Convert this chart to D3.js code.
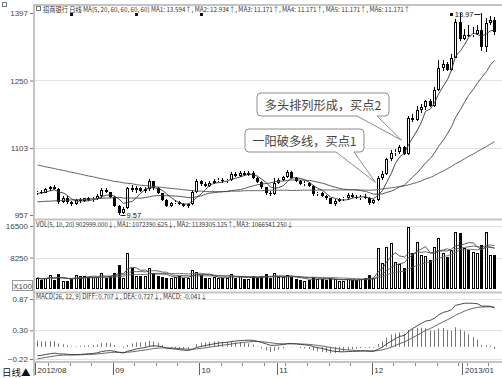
<!DOCTYPE html>
<html>
<head>
<meta charset="utf-8">
<script src="https://cdn.jsdelivr.net/npm/d3@7"></script>
<style>
  html, body { margin: 0; padding: 0; background: #fff; }
  svg { display: block; font-family: "Noto Sans CJK SC", "Liberation Sans", sans-serif; }
</style>
</head>
<body>
<svg id="chart" width="502" height="378"></svg>
<script>
// 招商银行 daily candles, 2012-08-08 .. 2013-01-15 (107 sessions)
const opens = [
  10.05,10.08,10.06,10.14,10.17,10.14,9.85,9.95,9.86,9.80,
  9.90,9.88,9.93,9.90,9.92,9.98,10.12,10.07,9.97,9.76,
  9.62,9.72,10.15,10.12,10.15,10.10,10.13,10.30,10.16,10.04,
  9.90,9.77,9.84,9.86,9.80,9.76,9.80,10.08,10.30,10.24,
  10.20,10.27,10.32,10.34,10.30,10.33,10.46,10.43,10.48,10.45,
  10.49,10.38,10.28,10.17,10.04,10.02,10.27,10.33,10.40,10.50,
  10.38,10.31,10.24,10.27,10.20,10.02,10.05,9.98,9.93,9.82,
  9.88,9.91,9.93,10.00,9.97,9.95,9.97,9.95,9.84,9.90,
  10.38,10.46,10.78,10.92,10.95,11.05,10.90,11.68,11.64,11.85,
  11.92,12.05,11.95,12.30,12.78,12.85,12.72,13.00,13.78,13.40,
  13.50,13.48,13.52,13.60,13.23,13.75,13.82
];
const highs = [
  10.10,10.12,10.16,10.20,10.22,10.16,9.98,9.98,9.88,9.92,
  9.95,9.95,9.96,9.96,10.02,10.15,10.16,10.08,9.99,9.78,
  9.74,10.18,10.22,10.20,10.18,10.18,10.36,10.32,10.18,10.06,
  9.92,9.86,9.90,9.88,9.84,9.82,10.12,10.36,10.33,10.28,
  10.30,10.36,10.38,10.38,10.36,10.50,10.50,10.52,10.52,10.52,
  10.53,10.40,10.30,10.19,10.10,10.38,10.38,10.42,10.55,10.52,
  10.40,10.34,10.30,10.29,10.22,10.08,10.07,10.00,9.95,9.92,
  9.94,9.96,10.04,10.04,10.00,10.00,10.02,9.97,9.92,10.42,
  10.52,10.82,10.98,11.00,11.10,11.08,11.72,11.78,11.95,11.98,
  12.08,12.10,12.35,12.95,12.95,12.90,13.08,13.85,13.96,13.62,
  13.70,13.66,13.70,13.97,13.86,13.90,13.88
];
const lows = [
  10.00,10.03,10.04,10.10,10.12,9.82,9.83,9.82,9.76,9.78,
  9.84,9.85,9.87,9.86,9.90,9.95,10.05,9.95,9.74,9.57,
  9.60,9.70,10.08,10.05,10.08,10.06,10.10,10.12,10.02,9.88,
  9.74,9.74,9.80,9.78,9.74,9.72,9.78,10.06,10.20,10.18,
  10.18,10.24,10.28,10.26,10.26,10.30,10.40,10.40,10.42,10.42,
  10.36,10.26,10.14,10.00,9.98,10.00,10.25,10.30,10.38,10.36,
  10.28,10.22,10.20,10.18,9.98,9.98,9.96,9.90,9.80,9.76,
  9.85,9.87,9.90,9.94,9.92,9.90,9.92,9.78,9.80,9.88,
  10.34,10.44,10.75,10.86,10.90,10.88,10.88,11.60,11.62,11.80,
  11.85,11.92,11.92,12.28,12.70,12.70,12.70,12.98,13.35,13.38,
  13.45,13.45,13.48,13.15,13.12,13.70,13.48
];
const closes = [
  10.08,10.06,10.14,10.17,10.14,9.85,9.95,9.86,9.80,9.90,
  9.88,9.93,9.90,9.92,9.98,10.12,10.07,9.97,9.76,9.62,
  9.70,10.15,10.12,10.15,10.10,10.13,10.30,10.16,10.04,9.90,
  9.77,9.84,9.86,9.80,9.76,9.80,10.08,10.30,10.24,10.20,
  10.27,10.32,10.34,10.30,10.33,10.46,10.43,10.48,10.45,10.49,
  10.38,10.28,10.17,10.04,10.02,10.27,10.33,10.40,10.50,10.38,
  10.31,10.24,10.27,10.20,10.02,10.05,9.98,9.93,9.82,9.88,
  9.91,9.93,10.00,9.97,9.95,9.97,9.95,9.84,9.90,10.38,
  10.46,10.78,10.92,10.95,11.05,10.90,11.68,11.64,11.85,11.92,
  12.05,11.95,12.30,12.78,12.85,12.72,13.00,13.78,13.40,13.50,
  13.48,13.52,13.60,13.23,13.75,13.82,13.55
];
// volume in units of 100 lots (axis shows X100)
const volumes = [
  2900,2400,2900,3700,2400,3800,2000,2100,2600,3600,
  3400,3400,3200,3200,3200,4200,3000,3300,4300,6300,
  3000,9400,5500,3300,3300,3300,5600,4200,3300,3200,
  3000,2800,3200,3400,3000,3000,5000,4500,3600,3000,
  2800,3200,3000,2800,2900,4000,3000,3300,2600,2700,
  3300,3000,3300,3900,2800,4100,3200,3100,3600,3200,
  2600,2400,2200,2400,3200,2600,2500,2400,2900,2500,
  2000,2200,2600,2300,2300,2700,2800,3700,3000,10700,
  6800,11000,12000,7000,6500,5500,16200,9500,12300,9000,
  8600,7600,11000,13400,9400,8400,10200,14900,14700,10700,
  10200,9800,9400,11500,14900,8800,9030
];

// averages carried in from sessions before the first candle
const ma5Lead = [10.04, 10.05, 10.07, 10.10];
const ma20Lead = [
  9.86,9.86,9.87,9.87,9.88,9.88,9.89,9.89,9.90,9.90,
  9.91,9.91,9.92,9.92,9.93,9.93,9.94,9.94,9.95
];
const ma60Lead = [
  10.66,10.64,10.62,10.60,10.58,10.56,10.54,10.52,10.50,10.48,
  10.46,10.44,10.42,10.40,10.38,10.36,10.34,10.32,10.30,10.29,
  10.27,10.26,10.25,10.23,10.22,10.21,10.20,10.19,10.18,10.17,
  10.16,10.15,10.14,10.13,10.12,10.11,10.10,10.09,10.09,10.08,
  10.08,10.08,10.08,10.08,10.08,10.09,10.09,10.09,10.10,10.10,
  10.10,10.10,10.10,10.11,10.11,10.11,10.11,10.11,10.11
];
// EMA state of the MACD before the first candle
const ema12Seed = 10.12;
const ema26Seed = 10.29;
const deaSeed = -0.23;

// axis ticks and calendar marks
const priceTicks = [13.97, 12.50, 11.03, 9.57];
const volumeTicks = [16500, 8250];
const macdTicks = [0.87, 0.30, -0.22];
const monthStartIdx = [0, 18, 38, 56, 78, 99];
const monthLabels = ["2012/08", "09", "10", "11", "12", "2013/01"];
const weekStartIdx = [3, 8, 13, 23, 28, 33, 43, 48, 53, 58, 63, 68, 73, 83, 88, 93, 98, 100, 105];
const infoMarkIdx = [8, 23, 38, 96];

const priceHeader = "招商银行 日线 MA(5, 20, 60, 60, 60, 60) MA1: 13.594↑, MA2: 12.934↑, MA3: 11.171↑, MA4: 11.171↑, MA5: 11.171↑, MA6: 11.171↑";
const volHeader = "VOL(5, 10, 20) 902999.000↓, MA1: 1072390.625↓, MA2: 1139305.125↑, MA3: 1066541.250↓";
const macdHeader = "MACD(26, 12, 9) DIFF: 0.707↓, DEA: 0.727↓, MACD: -0.041↓";
const notes = [
  { text: "一阳破多线，买点1", idx: 79, price: 10.28, dx: -3, box: [245, 129, 119, 23], gap: [336, 354] },
  { text: "多头排列形成，买点2", idx: 84, price: 11.20, dx: 2, box: [257, 93, 132, 23], gap: [357, 377] }
];

// ---------- derived series ----------
const N = closes.length;
function movingAvg(values, n, lead) {
  return values.map((v, i) => i >= n - 1
    ? d3.mean(values.slice(i - n + 1, i + 1))
    : (lead ? lead[i] : d3.mean(values.slice(0, i + 1))));
}
const ma5 = movingAvg(closes, 5, ma5Lead);
const ma20 = movingAvg(closes, 20, ma20Lead);
const ma60 = movingAvg(closes, 60, ma60Lead);
const vma5 = movingAvg(volumes, 5);
const vma10 = movingAvg(volumes, 10);
const vma20 = movingAvg(volumes, 20);

const diffs = [], deas = [], hist = [];
{
  let e12 = ema12Seed, e26 = ema26Seed, dea = deaSeed;
  closes.forEach(c => {
    e12 = e12 * 11 / 13 + c * 2 / 13;
    e26 = e26 * 25 / 27 + c * 2 / 27;
    const d = e12 - e26;
    dea = dea * 0.8 + d * 0.2;
    diffs.push(d); deas.push(dea); hist.push(2 * (d - dea));
  });
}

// ---------- scales ----------
const LEFT = 34, RIGHT = 502;
const x = d3.scaleBand().domain(d3.range(N)).range([35, 497]);
const cx = i => Math.floor(x(i) + x.step() / 2) + 0.5;
const yP = d3.scaleLinear().domain([9.57, 13.97]).range([215, 13]);
const yV = d3.scaleLinear().domain([0, 16500]).range([289, 226]);
const yM = d3.scaleLinear().domain([-0.22, 0.87]).range([359, 299]);
const px = v => Math.round(v) + 0.5;

const svg = d3.select("#chart");

// ---------- grid ----------
const grid = svg.append("g").attr("stroke", "#e3e3e3").attr("stroke-width", 1);
[12.50, 11.03].forEach(v => grid.append("line").attr("x1", LEFT).attr("x2", RIGHT).attr("y1", px(yP(v))).attr("y2", px(yP(v))));
[16500, 8250].forEach(v => grid.append("line").attr("x1", LEFT).attr("x2", RIGHT).attr("y1", px(yV(v))).attr("y2", px(yV(v))));
macdTicks.forEach(v => grid.append("line").attr("x1", LEFT).attr("x2", RIGHT).attr("y1", px(yM(v))).attr("y2", px(yM(v))));

// ---------- panel frames ----------
const frame = svg.append("g").attr("stroke", "#c4c4c4").attr("stroke-width", 2);
[5, 219.5, 292.5, 362].forEach(y => frame.append("line").attr("x1", LEFT - 1).attr("x2", RIGHT).attr("y1", y).attr("y2", y));
frame.append("line").attr("x1", 34).attr("x2", 34).attr("y1", 4).attr("y2", 376);

// ---------- axes ----------
function styleAxis(g) {
  g.select(".domain").remove();
  g.selectAll(".tick line").attr("stroke", "#777");
  g.selectAll(".tick text").attr("fill", "#444").attr("font-size", 8)
    .attr("font-family", "Liberation Sans, sans-serif");
}
svg.append("g").attr("transform", "translate(33,0)")
  .call(d3.axisLeft(yP).tickValues(priceTicks).tickSize(3).tickPadding(2).tickFormat(d => Math.round(d * 100)))
  .call(styleAxis);
svg.append("g").attr("transform", "translate(33,0)")
  .call(d3.axisLeft(yV).tickValues(volumeTicks).tickSize(3).tickPadding(2).tickFormat(d3.format("d")))
  .call(styleAxis);
svg.append("g").attr("transform", "translate(33,0)")
  .call(d3.axisLeft(yM).tickValues(macdTicks).tickSize(3).tickPadding(2).tickFormat(d3.format(".2f")))
  .call(styleAxis);

// X100 unit box
svg.append("rect").attr("x", 12.5).attr("y", 280.5).attr("width", 20).attr("height", 10)
  .attr("fill", "#fff").attr("stroke", "#999");
svg.append("text").attr("x", 22.5).attr("y", 288.5).attr("text-anchor", "middle")
  .attr("font-size", 8).attr("font-family", "Liberation Sans, sans-serif").attr("fill", "#444").text("X100");

// ---------- headers ----------
svg.append("rect").attr("x", 2.5).attr("y", 2.5).attr("width", 4).attr("height", 4).attr("fill", "none").attr("stroke", "#777");
svg.append("rect").attr("x", 36.5).attr("y", 6.5).attr("width", 4).attr("height", 4).attr("fill", "none").attr("stroke", "#777");
function header(str, x0, y0, len) {
  svg.append("text").attr("x", x0).attr("y", y0).attr("font-size", 7).attr("fill", "#333")
    .attr("textLength", len).attr("lengthAdjust", "spacingAndGlyphs").text(str);
}
header(priceHeader, 43, 12, 367);
header(volHeader, 36, 227, 257);
header(macdHeader, 36, 298.5, 171);

// ---------- candles ----------
const candles = svg.append("g");
d3.range(N).forEach(i => {
  const o = opens[i], c = closes[i], up = c >= o;
  const X = cx(i);
  const top = Math.round(yP(Math.max(o, c)));
  const bot = Math.max(top + 1, Math.round(yP(Math.min(o, c))));
  const hi = Math.round(yP(highs[i])), lo = Math.round(yP(lows[i]));
  candles.append("line").attr("x1", X).attr("x2", X).attr("y1", hi).attr("y2", top).attr("stroke", "#000");
  candles.append("line").attr("x1", X).attr("x2", X).attr("y1", bot).attr("y2", lo).attr("stroke", "#000");
  if (up) {
    candles.append("rect").attr("x", X - 1).attr("y", top + 0.5).attr("width", 2).attr("height", Math.max(0, bot - top - 1))
      .attr("fill", "#fff").attr("stroke", "#000");
  } else {
    candles.append("rect").attr("x", X - 1.5).attr("y", top).attr("width", 3).attr("height", bot - top).attr("fill", "#000");
  }
});

// moving averages on price
const priceLine = d3.line().x((d, i) => cx(i)).y(d => yP(d));
[[ma60, "#555"], [ma20, "#444"], [ma5, "#333"]].forEach(([s, col]) =>
  svg.append("path").attr("d", priceLine(s)).attr("fill", "none").attr("stroke", col).attr("stroke-width", 0.9));

// extreme price labels
const hiIdx = d3.maxIndex(highs), loIdx = d3.minIndex(lows);
svg.append("text").attr("x", cx(hiIdx) - 8).attr("y", yP(highs[hiIdx]) + 4).attr("text-anchor", "end")
  .attr("font-size", 7.5).attr("font-family", "Liberation Sans, sans-serif").attr("fill", "#222").text(d3.format(".2f")(highs[hiIdx]));
svg.append("line").attr("x1", cx(hiIdx) - 7).attr("x2", cx(hiIdx) - 1).attr("y1", yP(highs[hiIdx]) + 1.5).attr("y2", yP(highs[hiIdx]) + 1.5).attr("stroke", "#222");
svg.append("line").attr("x1", cx(loIdx) + 1).attr("x2", cx(loIdx) + 6).attr("y1", yP(lows[loIdx]) + 0.5).attr("y2", yP(lows[loIdx]) + 0.5).attr("stroke", "#222");
svg.append("text").attr("x", cx(loIdx) + 7).attr("y", yP(lows[loIdx]) + 3).attr("font-size", 7.5)
  .attr("font-family", "Liberation Sans, sans-serif").attr("fill", "#222").text(d3.format(".2f")(lows[loIdx]));

// information marks along the top
infoMarkIdx.forEach(i => {
  svg.append("rect").attr("x", cx(i) - 1.5).attr("y", 13).attr("width", 3).attr("height", 3).attr("fill", "#111");
});

// ---------- volume ----------
const vol = svg.append("g");
d3.range(N).forEach(i => {
  const up = closes[i] >= opens[i];
  const X = cx(i);
  const top = Math.round(yV(volumes[i])), base = Math.round(yV(0));
  if (up) {
    vol.append("rect").attr("x", X - 1).attr("y", top + 0.5).attr("width", 2).attr("height", base - top - 1)
      .attr("fill", "#fff").attr("stroke", "#000");
  } else {
    vol.append("rect").attr("x", X - 1.5).attr("y", top).attr("width", 3).attr("height", base - top).attr("fill", "#000");
  }
});
const volLine = d3.line().x((d, i) => cx(i)).y(d => yV(d));
[[vma20, "#666"], [vma10, "#555"], [vma5, "#444"]].forEach(([s, col]) =>
  svg.append("path").attr("d", volLine(s)).attr("fill", "none").attr("stroke", col).attr("stroke-width", 0.9));

// ---------- MACD ----------
const macdG = svg.append("g").attr("stroke", "#777").attr("stroke-width", 1);
hist.forEach((h, i) => {
  macdG.append("line").attr("x1", cx(i)).attr("x2", cx(i)).attr("y1", yM(0)).attr("y2", yM(h));
});
const macdLine = d3.line().x((d, i) => cx(i)).y(d => yM(d));
svg.append("path").attr("d", macdLine(deas)).attr("fill", "none").attr("stroke", "#555").attr("stroke-width", 0.9);
svg.append("path").attr("d", macdLine(diffs)).attr("fill", "none").attr("stroke", "#333").attr("stroke-width", 0.9);

// ---------- date axis ----------
const dateAxis = svg.append("g");
weekStartIdx.forEach(i => dateAxis.append("line").attr("x1", px(x(i))).attr("x2", px(x(i))).attr("y1", 363).attr("y2", 366).attr("stroke", "#888"));
monthStartIdx.forEach((i, k) => {
  dateAxis.append("line").attr("x1", px(x(i))).attr("x2", px(x(i))).attr("y1", 363).attr("y2", 375).attr("stroke", "#666");
  dateAxis.append("text").attr("x", x(i) + 2.5).attr("y", 373).attr("font-size", 8)
    .attr("font-family", "Liberation Sans, sans-serif").attr("fill", "#333").text(monthLabels[k]);
});
svg.append("text").attr("x", 2).attr("y", 376).attr("font-size", 9.5).attr("fill", "#111").text("日线▲");

// ---------- annotations ----------
notes.forEach(n => {
  const [bx, by, bw, bh] = n.box, r = 4, by2 = by + bh;
  const tip = [cx(n.idx) + n.dx, yP(n.price)];
  const d = `M${bx + r},${by} H${bx + bw - r} Q${bx + bw},${by} ${bx + bw},${by + r} V${by2 - r} Q${bx + bw},${by2} ${bx + bw - r},${by2}` +
    ` H${n.gap[1]} L${tip[0]},${tip[1]} L${n.gap[0]},${by2} H${bx + r} Q${bx},${by2} ${bx},${by2 - r} V${by + r} Q${bx},${by} ${bx + r},${by} Z`;
  svg.append("path").attr("d", d).attr("fill", "#fff").attr("fill-opacity", 0.95).attr("stroke", "#8c8c8c").attr("stroke-width", 1);
  svg.append("text").attr("x", bx + bw / 2).attr("y", by + 16.5).attr("text-anchor", "middle")
    .attr("font-size", 12.2).attr("fill", "#444").text(n.text);
});
</script>
</body>
</html>
